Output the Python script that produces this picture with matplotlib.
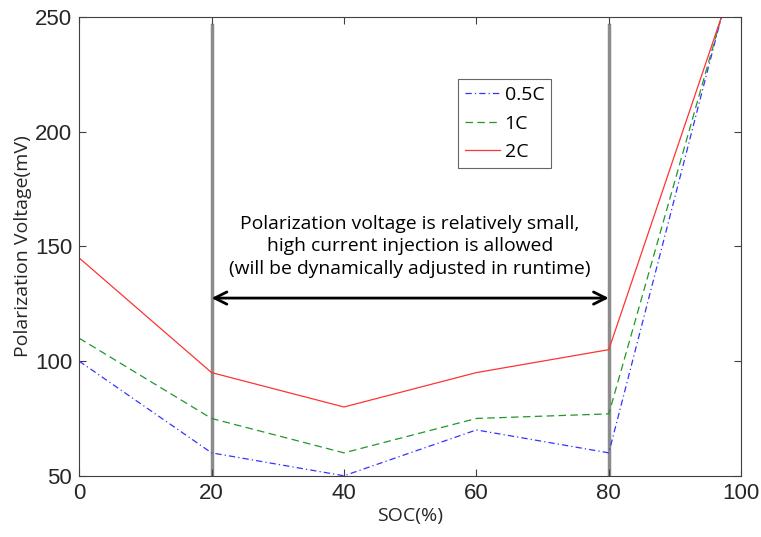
import matplotlib
matplotlib.use("Agg")
import matplotlib.pyplot as plt

soc = [0, 20, 40, 60, 80, 97]
v_05c = [100, 60, 50, 70, 60, 250]
v_1c = [110, 75, 60, 75, 77, 250]
v_2c = [145, 95, 80, 95, 105, 250]
labels = ['0.5C', '1C', '2C']

fig = plt.figure(figsize=(7.61, 5.37), dpi=100)
ax = fig.add_axes([0.104, 0.114, 0.870, 0.854])

ax.plot(soc, v_05c, color='#3333ff', linestyle=(0, (5, 2.5, 1, 2.5)), linewidth=0.9, label=labels[0])
ax.plot(soc, v_1c, color='#22962a', linestyle=(0, (6, 3.5)), linewidth=0.9, label=labels[1])
ax.plot(soc, v_2c, color='#ff3333', linestyle='-', linewidth=0.9, label=labels[2])

# region markers
for xv in (20, 80):
    ax.plot([xv, xv], [50, 246.5], color='#8c8c8c', linewidth=2.5, zorder=1)

ax.annotate('', xy=(80, 127.5), xytext=(20, 127.5),
            arrowprops=dict(arrowstyle='<->', color='black', lw=2,
                            mutation_scale=22, shrinkA=0, shrinkB=0))
ax.text(50, 150, "Polarization voltage is relatively small,\nhigh current injection is allowed\n(will be dynamically adjusted in runtime)",
        ha='center', va='center', fontsize=13.9, family='Open Sans', linespacing=1.35)

ax.set_xlim(0, 100)
ax.set_ylim(50, 250)
ax.set_xticks([0, 20, 40, 60, 80, 100])
ax.set_yticks([50, 100, 150, 200, 250])
ax.tick_params(direction='in', top=True, right=True, length=5, width=0.8,
               color='#404040', labelsize=16, labelcolor='#262626', pad=5)
for lbl in ax.get_xticklabels() + ax.get_yticklabels():
    lbl.set_family('Liberation Sans')
for sp in ax.spines.values():
    sp.set_color('#404040')
    sp.set_linewidth(0.8)

ax.set_xlabel('SOC(%)', fontsize=14, family='Open Sans', color='#262626', labelpad=2)
ax.set_ylabel('Polarization Voltage(mV)', fontsize=14, family='Open Sans', color='#262626', labelpad=2)

leg = ax.legend(loc='upper right', bbox_to_anchor=(0.713, 0.865), fancybox=False,
                prop={'family': 'Open Sans', 'size': 14}, handlelength=1.8,
                borderpad=0.35, labelspacing=0.55, handletextpad=0.25,
                borderaxespad=0)
leg.get_frame().set_edgecolor('#404040')
leg.get_frame().set_linewidth(0.8)

plt.savefig('out.png', dpi=100)
